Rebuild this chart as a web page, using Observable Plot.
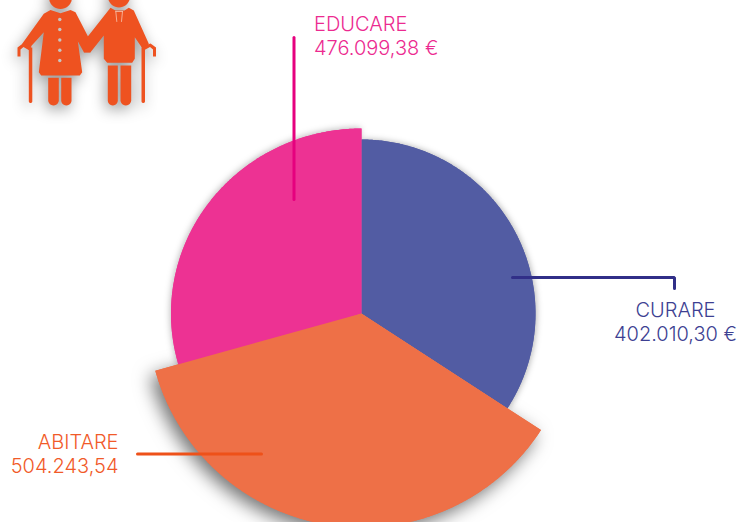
<!DOCTYPE html>
<html><head><meta charset="utf-8">
<script src="https://cdn.jsdelivr.net/npm/d3@7"></script>
<script src="https://cdn.jsdelivr.net/npm/@observablehq/plot@0.6"></script>
<style>html,body{margin:0;padding:0;background:#fff}svg{display:block}</style>
</head><body><div id="chart"></div>
<script>
// Labels and printed amounts
const sliceNames = ["CURARE", "ABITARE", "EDUCARE"];
const sliceAmounts = ["402.010,30 €", "504.243,54", "476.099,38 €"];
// Sweep of each slice (degrees) and its radii
const sliceSweeps = [123, 131.5, 105.5];
const sliceRadiiX = [174, 214, 190.5];
const sliceRadiiY = [174, 214, 185];
const sliceColors = ["#525ca3", "#ee7047", "#ed3293"];
const textColors = ["#3d3f92", "#f15a29", "#ec2a90"];
const ruleColors = ["#312f88", "#ee5119", "#e6007e"];
const cx = 361, cy = 313;

let start = 0;
const slices = sliceNames.map((name, i) => {
  // Educare tucks slightly under Abitare, which lies on top of it
  const a0 = start - (i === 2 ? 2 : 0), a1 = start + sliceSweeps[i];
  start += sliceSweeps[i];
  const pts = [{x: cx, y: cy}];
  for (let a = a0; a <= a1 + 1e-6; a += 0.5) {
    const t = a * Math.PI / 180;
    pts.push({x: cx + sliceRadiiX[i] * Math.sin(t), y: cy - sliceRadiiY[i] * Math.cos(t)});
  }
  return pts;
});

// Pictogram outlines
const poly = (id, arr) => arr.map(([x, y]) => ({id, x, y}));
const circle = (id, x0, y0, r) => d3.range(0, 360, 10).map(a => ({id, x: x0 + r * Math.cos(a * Math.PI / 180), y: y0 + r * Math.sin(a * Math.PI / 180)}));
const capsule = (id, x0, x1, y0, y1) => {
  const r = (x1 - x0) / 2, m = (x0 + x1) / 2, out = [{id, x: x0, y: y0}, {id, x: x1, y: y0}];
  for (let a = 0; a <= 180; a += 15) out.push({id, x: m + r * Math.cos(a * Math.PI / 180), y: y1 - r + r * Math.sin(a * Math.PI / 180)});
  return out;
};
const icon = [
  ...circle("wh", 60, -3, 11.5),
  ...circle("mh", 118.5, -4, 11),
  ...poly("woman", [[50,9.5],[60,12.7],[70,9.5],[75,11.7],[87.5,36],[90,52],[83.5,52],[77.3,40.7],[81.7,71.7],[79.3,75],[40.7,75],[38.3,71.7],[43.3,31.7],[28.3,48.3],[21.7,43.3],[43.3,13.3]]),
  ...poly("man", [[110,7.3],[115,10],[124,10],[128.3,7.3],[133.3,10],[148.3,43.3],[143.3,50],[134.3,36.7],[134.3,58.3],[131.7,62.3],[106.7,62.3],[103.3,58.3],[103.3,35],[90,51.7],[83.3,51.7],[87.3,36]]),
  ...capsule("wl1", 47.7, 58.3, 77.3, 105),
  ...capsule("wl2", 60.7, 71, 77.3, 105),
  ...capsule("ml1", 107.3, 117.3, 65, 105),
  ...capsule("ml2", 120, 130.7, 65, 105),
  ...capsule("wc", 28.3, 31.8, 47, 102.5),
  ...capsule("mc", 141, 144.5, 47, 102.5),
  ...poly("wch", [[31,46],[23,42.5],[17,47],[17,56],[20,56],[20,49],[23,46.5],[29,50]]),
  ...poly("mch", [[141,46],[150,43],[155.5,47],[155.5,56],[152.5,56],[152.5,49],[149.5,46.5],[143,50]])
];
const buttonsY = [19, 29, 39.5, 49.7, 60];
const tie = [
  {id: "a", x: 115.3, y: 11}, {id: "a", x: 116.3, y: 21},
  {id: "b", x: 122, y: 11}, {id: "b", x: 121, y: 21},
  {id: "c", x: 115.3, y: 11}, {id: "c", x: 122, y: 11}
];
const iconColor = "#ee5220";

const leaders = [
  [{x: 512, y: 277}, {x: 674, y: 277}, {x: 674, y: 288}],
  [{x: 137, y: 453.5}, {x: 261, y: 453.5}],
  [{x: 293.5, y: 37}, {x: 293.5, y: 199}]
];
const labelX = [675, 118, 313.5];
const nameY = [310, 442, 24];
const amountY = [334, 466, 48];
const labelAnchor = ["middle", "end", "start"];

const shadows = [
  "drop-shadow(1px 0px 3px rgba(0,0,0,0.3))",
  "drop-shadow(-5px 6px 9px rgba(0,0,0,0.55))",
  "drop-shadow(-1px -1px 3px rgba(0,0,0,0.25))"
];
const textOptions = i => ({
  textAnchor: labelAnchor[i], fill: textColors[i], fontSize: 20, fontWeight: 300, fontFamily: "Inter"
});
const marks = [
  Plot.line(icon, {x: "x", y: "y", z: "id", fill: iconColor, stroke: "none", curve: "linear", imageFilter: "drop-shadow(-2px 5px 7px rgba(0,0,0,0.4))"}),
  Plot.dot(buttonsY, {x: () => 59.3, y: d => d, r: 1.7, fill: "#c9c4c0", stroke: "none"}),
  Plot.line(tie, {x: "x", y: "y", z: "id", stroke: "#f8c4ae", strokeWidth: 0.8}),
  ...slices.map((s, i) => Plot.line(s, {x: "x", y: "y", fill: sliceColors[i], stroke: "none", imageFilter: shadows[i]})),
  ...[0, 2, 1].map(i => Plot.line(slices[i], {x: "x", y: "y", fill: sliceColors[i], stroke: "none"})),
  ...leaders.map((l, i) => Plot.line(l, {x: "x", y: "y", stroke: ruleColors[i], strokeWidth: 3, strokeLinejoin: "miter"})),
  ...sliceNames.map((n, i) => Plot.text([n], {x: () => labelX[i], y: () => nameY[i], text: d => d, ...textOptions(i)})),
  ...sliceAmounts.map((n, i) => Plot.text([n], {x: () => labelX[i], y: () => amountY[i], text: d => d, ...textOptions(i)}))
];

const chart = Plot.plot({
  width: 739, height: 522, margin: 0,
  x: {domain: [0, 739], range: [0, 739], axis: null},
  y: {domain: [0, 522], range: [0, 522], axis: null},
  marks
});
document.getElementById("chart").append(chart);
</script></body></html>
